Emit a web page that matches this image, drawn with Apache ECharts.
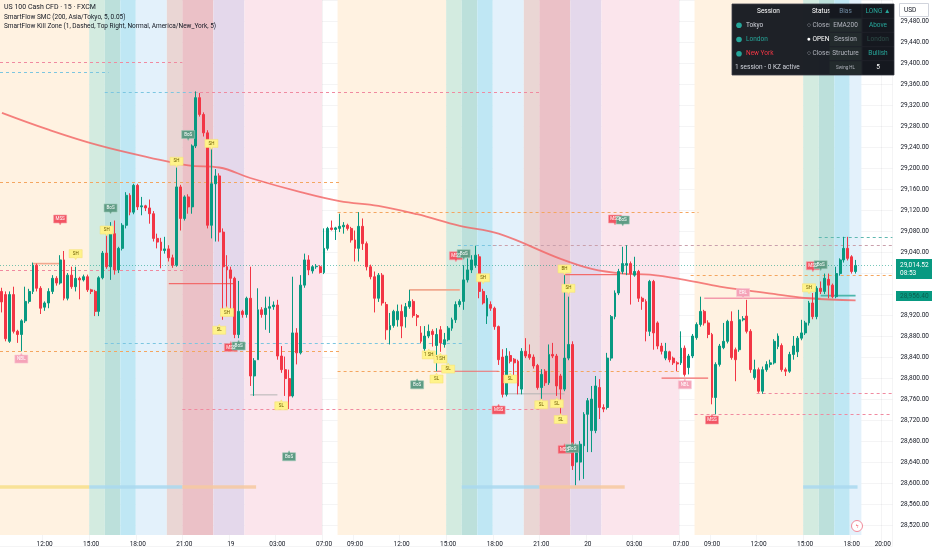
<!DOCTYPE html>
<html><head><meta charset="utf-8">
<script src="https://cdn.jsdelivr.net/npm/echarts@6/dist/echarts.min.js"></script>
<style>html,body{margin:0;padding:0;background:#fff}#c{width:932px;height:550px}</style>
</head><body><div id="c"></div>
<script>
// ---------- DATA ----------
// OHLC per 15-min candle: [open, close, low, high]
const candles = [
[28965,28945,28925,28972],[28959,28875,28870,28965],[28870,28959,28867,28965],[28959,28889,28885,28974],[28889,28883,28867,28892],
[28883,28909,28851,28912],[28909,28946,28905,28974],[28946,28965,28942,28970],[28965,29015,28960,29020],[29015,28971,28965,29018],
[28971,28933,28922,28975],[28935,28943,28928,28946],[28943,28965,28933,28971],[28965,28990,28960,28996],[28990,28981,28976,28994],
[28981,29025,28978,29034],[29025,28952,28948,29042],[28952,28996,28948,29000],[28996,28974,28970,29012],[28974,28990,28965,29012],
[28990,28987,28950,28993],[28987,28993,28984,28997],[28993,28968,28964,28997],[28968,28965,28960,28970],[28965,28927,28918,28968],
[28927,28991,28918,28994],[28991,29038,28988,29042],[29038,29012,29008,29072],[29012,29075,28987,29097],[29075,29006,28997,29100],
[29006,29047,29000,29050],[29047,29091,29043,29095],[29091,29148,29085,29154],[29148,29116,29110,29152],[29116,29167,29112,29170],
[29167,29126,29120,29170],[29126,29128,29110,29145],[29128,29124,29118,29130],[29124,29113,29094,29140],[29113,29066,29060,29118],
[29066,29059,29047,29075],[29059,29043,29009,29067],[29043,29046,29037,29069],[29046,29029,29022,29053],[29029,29015,29010,29035],
[29015,29164,29012,29201],[29164,29104,29081,29168],[29104,29145,29100,29148],[29145,29126,29113,29150],[29126,29242,29113,29245],
[29242,29334,29238,29346],[29334,29302,29298,29343],[29302,29267,29260,29306],[29267,29091,29085,29272],[29091,29170,29066,29239],
[29170,29185,29060,29198],[29185,29078,29060,29190],[29078,29012,28911,29085],[29012,29006,28927,29034],[29006,28990,28920,29012],
[28990,28883,28876,28993],[28883,28927,28876,28985],[28927,28921,28915,28930],[28921,28952,28915,28955],[28952,28804,28785,29012],
[28804,28833,28766,28838],[28835,28930,28835,28971],[28930,28921,28915,28935],[28921,28933,28892,28955],[28933,28936,28886,28955],
[28936,28939,28930,28946],[28939,28842,28835,28949],[28842,28816,28810,28861],[28816,28799,28766,28841],[28799,28766,28741,28816],
[28766,28886,28763,28993],[28886,28848,28826,28895],[28848,28977,28845,28996],[28977,29025,28972,29037],[29025,29006,28996,29034],
[29004,29012,28999,29015],[29012,29013,29008,29017],[29012,29001,28999,29015],[29001,29047,28998,29085],[29047,29085,29043,29088],
[29086,29083,29081,29100],[29083,29086,29063,29088],[29085,29089,29078,29113],[29088,29091,29075,29097],[29091,29085,29081,29094],
[29085,29063,29058,29088],[29063,29047,29022,29081],[29047,29089,29022,29116],[29089,29056,29044,29104],[29056,29012,29005,29060],
[29012,28993,28988,29016],[28993,28952,28925,29003],[28952,28996,28945,29000],[28996,28943,28938,29000],[28940,28892,28873,28945],
[28892,28900,28864,28924],[28900,28927,28896,28930],[28911,28927,28898,28940],[28927,28899,28876,28940],[28917,28936,28896,28943],
[28936,28946,28932,28968],[28946,28919,28915,28950],[28919,28916,28899,28922],[28886,28870,28866,28899],[28856,28880,28848,28899],
[28880,28889,28876,28902],[28889,28883,28860,28893],[28862,28883,28813,28895],[28892,28867,28850,28899],[28864,28873,28858,28886],
[28873,28895,28870,28899],[28895,28911,28890,28915],[28911,28940,28905,28946],[28940,28946,28935,28950],[28946,28987,28930,29015],
[28987,29006,28982,29028],[29006,29025,29000,29034],[29015,29034,29010,29052],[29031,28965,28952,29036],[28965,28943,28940,28970],
[28918,28952,28903,28958],[28940,28933,28928,28946],[28933,28898,28892,28936],[28898,28835,28825,28900],[28840,28769,28763,28855],
[28769,28842,28765,28857],[28843,28832,28828,28851],[28836,28829,28791,28838],[28832,28785,28769,28835],[28779,28851,28769,28857],
[28851,28842,28838,28876],[28845,28839,28835,28864],[28840,28823,28818,28845],[28824,28782,28778,28827],[28782,28807,28760,28817],
[28813,28791,28785,28817],[28791,28845,28787,28864],[28845,28842,28838,28867],[28842,28785,28766,28846],[28804,28779,28722,28808],
[28779,28838,28775,28996],[28838,28864,28834,28955],[28864,28633,28625,28870],[28640,28671,28596,28675],[28640,28674,28605,28680],
[28671,28731,28608,28735],[28731,28757,28659,28762],[28700,28760,28659,28785],[28700,28785,28695,28804],[28782,28744,28722,28798],
[28744,28741,28735,28750],[28744,28838,28740,28848],[28838,28917,28833,28920],[28917,28962,28912,28967],[28962,29003,28958,29008],
[29003,29018,28998,29050],[29015,29018,28996,29053],[29018,28999,28940,29022],[28996,29003,28993,29031],[29003,28952,28945,29006],
[28952,28946,28930,28955],[28946,28889,28870,28950],[28889,28984,28880,28987],[28984,28886,28854,28987],[28905,28861,28855,28908],
[28861,28851,28845,28867],[28838,28851,28834,28867],[28850,28835,28830,28852],[28838,28829,28825,28841],[28829,28827,28813,28832],
[28829,28857,28825,28889],[28857,28807,28803,28862],[28820,28842,28807,28846],[28842,28880,28838,28884],[28877,28902,28873,28906],
[28902,28927,28898,28955],[28927,28905,28900,28930],[28905,28883,28876,28910],[28883,28763,28750,28886],[28763,28826,28731,28830],
[28826,28861,28822,28865],[28858,28870,28855,28905],[28870,28908,28866,28911],[28908,28839,28835,28927],[28854,28835,28794,28858],
[28854,28911,28850,28930],[28911,28913,28908,28918],[28918,28889,28885,28949],[28889,28816,28810,28893],[28801,28816,28797,28835],
[28816,28775,28772,28820],[28775,28816,28770,28822],[28816,28826,28812,28832],[28826,28829,28820,28835],[28829,28870,28826,28874],
[28860,28880,28855,28885],[28862,28816,28812,28866],[28816,28813,28804,28820],[28813,28845,28810,28850],[28845,28861,28835,28880],
[28850,28876,28840,28880],[28876,28886,28872,28911],[28886,28905,28882,28909],[28905,28943,28900,28947],[28943,28917,28912,28962],
[28917,28971,28912,28975],[28971,28965,28960,28984],[28965,28990,28960,28999],[28988,28977,28952,28999],[28977,28955,28952,28980],
[28955,28999,28952,29012],[28999,29025,28995,29028],[29025,29047,29020,29069],[29047,29028,29024,29069],[29031,29003,28999,29034],
[29003,29014.52,28999,29025]
];
// EMA 200 read points: [candle index, price]
const emaPoints = [[0,29305],[12,29273],[25,29243],[38,29220],[48,29205],[56,29201],[64,29181],[77,29154],[87,29137],[97,29128],
[107,29112],[118,29090],[128,29075],[144,29027],[152,29008],[160,28999],[167,28997],[176,28987],[185,28974],[192,28967],[200,28959],[208,28952],[220,28948]];
// time-axis tick labels: [category, label]
const tickLabels = [['18 12:00','12:00'],['18 15:00','15:00'],['18 18:00','18:00'],['18 21:00','21:00'],['19 00:00','19'],['19 03:00','03:00'],
['19 07:00','07:00'],['19 09:00','09:00'],['19 12:00','12:00'],['19 15:00','15:00'],['19 18:00','18:00'],['19 21:00','21:00'],['20 00:00','20'],
['20 03:00','03:00'],['20 07:00','07:00'],['20 09:00','09:00'],['20 12:00','12:00'],['20 15:00','15:00'],['20 18:00','18:00'],['20 20:00','20:00']];
// session background windows: [start, end(exclusive), kind]
const sessionBands = [
['18 09:15','18 15:00','asia'],['18 15:00','18 16:00','lonA'],['18 16:00','18 17:00','lonB'],['18 17:00','18 18:00','nyOpen'],['18 18:00','18 20:00','ny'],
['18 20:00','18 21:00','nyLate'],['18 21:00','18 23:00','kz'],['18 23:00','19 01:00','late'],['19 01:00','19 07:00','night'],
['19 08:00','19 15:00','asia'],['19 15:00','19 16:00','lonA'],['19 16:00','19 17:00','lonB'],['19 17:00','19 18:00','nyOpen'],['19 18:00','19 20:00','ny'],
['19 20:00','19 21:00','nyLate'],['19 21:00','19 23:00','kz'],['19 23:00','20 01:00','late'],['20 01:00','20 07:00','night'],
['20 08:00','20 15:00','asia'],['20 15:00','20 16:00','lonA'],['20 16:00','20 17:00','lonB'],['20 17:00','20 18:00','nyOpen'],['20 18:00','20 18:45','ny']
];
// session range strips near the bottom: [start, end(exclusive), kind]
const rangeStrips = [['18 09:15','18 15:00','asia'],['18 15:00','18 21:00','london'],['18 21:00','19 01:45','ny'],
['19 16:00','19 21:00','london'],['19 21:00','20 02:30','ny'],['20 15:00','20 18:30','london']];
const stripPrices = [28589, 28596];
// dashed liquidity levels: [price, start index, end index, kind]
const levels = [
[29402,0,46,'pink'],[29383,0,27,'blue'],[29345,27,50,'blue'],[29345,50,138,'pink'],[29174,0,87,'orange'],[29116,87,179,'orange'],
[29069,211,229,'teal'],[29054,118,127,'blue'],[29054,127,229,'rose'],[29014.52,0,229,'current'],[29006,0,47,'pink'],[28997,178,229,'orange'],
[28866,27,118,'blue'],[28851,0,87,'orange'],[28813,87,112,'orange'],[28813,128,174,'orange'],[28772,195,229,'pink'],[28741,47,138,'pink'],[28732,179,229,'pink']
];
// structure lines: [price, start index, end index, kind]
const structure = [[29018,8,15,'salmon'],[28980,43,60,'red'],[28768,64,71,'grey'],[28968,105,118,'salmon'],[28813,112,128,'red'],[28770,129,145,'grey'],
[28997,145,159,'red'],[28800,170,182,'red'],[28952,181,211,'pink'],[28957,211,220,'teal']];
// markers: [candle index, price, text]
const markSH = [[19,29035,'SH'],[27,29080,'SH'],[45,29211,'SH'],[54,29245,'SH'],[56,28893,'SL'],[58,28927,'SH'],[72,28749,'SL'],
[110,28846,'1 SH'],[113,28838,'1 SH'],[115,28819,'SL'],[112,28800,'SL'],[124,28989,'SH'],[131,28800,'SL'],[139,28751,'SL'],[143,28753,'SL'],
[144,28723,'SL'],[145,29006,'BH'],[146,28969,'SH'],[208,28970,'SH']];
const markBoS = [[28,29122,'BoS'],[48,29262,'BoS'],[61,28863,'BoS'],[74,28652,'BoS'],[107,28789,'BoS'],[119,29035,'BoS'],[147,28668,'BoS'],[160,29099,'BoS'],[211,29014,'BoS']];
const markMSS = [[15,29101,'MSS'],[59,28860,'MSS'],[117,29031,'MSS'],[128,28741,'MSS'],[145,28666,'MSS'],[158,29101,'MSS'],[183,28722,'MSS'],[209,29012,'MSS']];
const markLiq = [[5,28838,'NBL'],[176,28789,'NBL'],[191,28961,'ERL']];
const lastPrice = 29014.52, lastCountdown = '08:53', secondTag = 28956.40;

// ---------- STYLE ----------
const bandColors = {asia:'#fff2e1',lonA:'#d3ebe0',lonB:'#bce0db',nyOpen:'#bfe7f4',ny:'#e3f1fb',nyLate:'#ead6d4',kz:'#ebc1c7',late:'#e4d8eb',night:'#fbe5ec'};
const stripColors = {asia:'#f7df8a',london:'#a9d8ee',ny:'#f6c9a0'};
const levelStyles = {
  pink:{c:'#f08aa0',d:[3,3]}, blue:{c:'#7cc6e0',d:[3,3]}, orange:{c:'#f4a660',d:[3,3]}, teal:{c:'#5fb8b0',d:[3,3]},
  rose:{c:'#c9a0ac',d:[3,3]}, current:{c:'rgba(8,153,129,0.55)',d:[1,2]}
};
const structStyles = {salmon:{c:'#f1a88e',w:1.6},red:{c:'#f26b6b',w:1.2},grey:{c:'#b4b4b4',w:1},pink:{c:'#f39aac',w:1.6},teal:{c:'#4db6ac',w:1.6}};
const FONT = 'Roboto';
const PIN_DOWN = 'path://M0,0 L12,0 L12,8 L7,8 L6,10 L5,8 L0,8 Z';
const PIN_UP = 'path://M0,2 L5,2 L6,0 L7,2 L12,2 L12,10 L0,10 Z';

// ---------- BUILD ----------
function pad(n){return (n<10?'0':'')+n;}
const categories = [];
(function(){ let d=18, m=9*60+15;
  while(categories.length<230){ const h=Math.floor(m/60), mi=m%60;
    if(h!==4) categories.push(d+' '+pad(h)+':'+pad(mi));
    m+=15; if(m>=1440){m=0; d++;} } })();
const ci = k => categories.indexOf(k);
const tickMap = new Map(tickLabels);
const Y_MIN=28480, Y_MAX=29520, BAND_BOTTOM=28501;

const bandKeys = Object.keys(bandColors);
const bandData = sessionBands.map(b=>[ci(b[0]), ci(b[1]), bandKeys.indexOf(b[2])]);
const stripKeys = Object.keys(stripColors);
const stripData = rangeStrips.map(b=>[ci(b[0]), ci(b[1]), stripKeys.indexOf(b[2])]);
const levelKeys = Object.keys(levelStyles);
const levelData = levels.map(l=>[l[1], l[2], l[0], levelKeys.indexOf(l[3])]);
const structKeys = Object.keys(structStyles);
const structData = structure.map(l=>[l[1], l[2], l[0], structKeys.indexOf(l[3])]);

function isAbove(m){ const c=candles[m[0]]; if(!c) return true; return m[1] > (c[0]+c[1])/2; }
function markerSeries(data, bg, fg, border){
  return {type:'scatter', data:data.map(m=>({value:m, symbol:isAbove(m)?PIN_DOWN:PIN_UP,
      label:{offset:[0, isAbove(m)?-1:1]}})),
    symbolSize:[13,10], z:6, silent:true,
    itemStyle:{color:bg, borderColor:border||bg, borderWidth:0.6, opacity:1},
    label:{show:true, position:'inside', formatter:p=>p.value[2], fontSize:4.5, color:fg, fontFamily:FONT}};
}

const chart = echarts.init(document.getElementById('c'), null, {renderer:'canvas'});
const option = {
  animation:false,
  backgroundColor:'#ffffff',
  grid:{left:0, right:37, top:-3.3, bottom:3.9},
  xAxis:{type:'category', data:categories, boundaryGap:true,
    axisLine:{show:false}, axisTick:{show:false},
    axisLabel:{inside:true, margin:-1.5, interval:(i,v)=>tickMap.has(v), formatter:v=>tickMap.get(v)||'', fontSize:6.5, color:'#131722', fontFamily:FONT},
    splitLine:{show:true, interval:(i,v)=>tickMap.has(v), lineStyle:{color:'rgba(42,46,57,0.05)'}}},
  yAxis:{type:'value', position:'right', min:Y_MIN, max:Y_MAX, interval:40, scale:true,
    axisLine:{show:false}, axisTick:{show:false},
    axisLabel:{showMinLabel:false, showMaxLabel:false, margin:8, fontSize:6.5, color:'#131722', fontFamily:FONT,
      formatter:v=>v.toLocaleString('en-US',{minimumFractionDigits:2, maximumFractionDigits:2})},
    splitLine:{lineStyle:{color:'rgba(42,46,57,0.05)'}}},
  series:[
    {type:'custom', silent:true, z:0, data:bandData, encode:{x:[0,1]},
      renderItem:(params, api)=>{
        const s=api.value(0), e=api.value(1), k=api.value(2);
        const w=api.size([1,0])[0];
        const p0=api.coord([s, Y_MAX]), p1=api.coord([e, BAND_BOTTOM]);
        return {type:'rect', shape:{x:p0[0]-w/2, y:params.coordSys.y, width:(p1[0]-p0[0]), height:p1[1]-params.coordSys.y},
          style:{fill:bandColors[bandKeys[k]]}};
      }},
    {type:'custom', silent:true, z:1, data:stripData, encode:{x:[0,1]},
      renderItem:(params, api)=>{
        const s=api.value(0), e=api.value(1), k=api.value(2);
        const w=api.size([1,0])[0];
        const p0=api.coord([s, stripPrices[1]]), p1=api.coord([e, stripPrices[0]]);
        return {type:'rect', shape:{x:p0[0]-w/2, y:p0[1], width:p1[0]-p0[0], height:p1[1]-p0[1]},
          style:{fill:stripColors[stripKeys[k]], opacity:0.85}};
      }},
    {type:'custom', silent:true, z:2, data:levelData, encode:{x:[0,1], y:2},
      renderItem:(params, api)=>{
        const s=api.value(0), e=api.value(1), p=api.value(2), k=api.value(3);
        const w=api.size([1,0])[0];
        const a=api.coord([s,p]), b=api.coord([e,p]);
        const st=levelStyles[levelKeys[k]];
        return {type:'line', shape:{x1:a[0]-w/2, y1:Math.round(a[1])+0.5, x2:b[0]+w/2, y2:Math.round(a[1])+0.5},
          style:{stroke:st.c, lineWidth:1, lineDash:st.d}};
      }},
    {type:'custom', silent:true, z:3, data:structData, encode:{x:[0,1], y:2},
      renderItem:(params, api)=>{
        const s=api.value(0), e=api.value(1), p=api.value(2), k=api.value(3);
        const a=api.coord([s,p]), b=api.coord([e,p]);
        const st=structStyles[structKeys[k]];
        return {type:'line', shape:{x1:a[0], y1:a[1], x2:b[0], y2:b[1]}, style:{stroke:st.c, lineWidth:st.w}};
      }},
    {type:'line', data:emaPoints, smooth:0.4, symbol:'none', connectNulls:true, z:3, silent:true,
      lineStyle:{color:'rgba(242,98,98,0.8)', width:1.8}},
    {type:'candlestick', data:candles, barWidth:'62%', z:5, silent:true,
      itemStyle:{color:'#089981', color0:'#f23645', borderColor:'#089981', borderColor0:'#f23645', borderWidth:1}},
    markerSeries(markSH, '#fff38a', '#6d5d00', '#f5e37a'),
    markerSeries(markMSS, '#f25563', '#ffffff', '#f7a0a8'),
    markerSeries(markBoS, '#5e9b84', '#ffffff', '#9fc9b8'),
    markerSeries(markLiq, '#f5a3b8', '#ffffff', '#f8c7d3')
  ]
};
chart.setOption(option);

// ---------- OVERLAYS ----------
const yLast = chart.convertToPixel({yAxisIndex:0}, lastPrice);
const y2 = chart.convertToPixel({yAxisIndex:0}, secondTag);
const fmt = v=>v.toLocaleString('en-US',{minimumFractionDigits:2, maximumFractionDigits:2});
const T = (x,y,text,fill,opt)=>Object.assign({type:'text', z:100, style:Object.assign({x:x, y:y, text:text, fill:fill, fontSize:6.5, fontFamily:FONT, verticalAlign:'middle', align:'left'}, opt||{})});
const R = (x,y,w,h,fill,opt)=>Object.assign({type:'rect', z:99, shape:{x:x,y:y,width:w,height:h}, style:Object.assign({fill:fill}, opt||{})});

const TX=732, TY=4, TW=162, TH=71, C1=805, C2=829, C3=862, RH=[4,18.3,32.3,46.7,60.7,75];
const g = [];
// title lines
g.push(T(4,7.5,'US 100 Cash CFD · 15 · FXCM','#131722',{fontSize:7}));
g.push(T(4,17,'SmartFlow SMC (200, Asia/Tokyo, 5, 0.05)','#131722'));
g.push(T(4,26.5,'SmartFlow Kill Zone (1, Dashed, Top Right, Normal, America/New_York, 5)','#131722'));
// table
g.push(R(TX,TY,TW,TH,'rgba(21,24,31,0.96)',{stroke:'#3a3e48', lineWidth:0.8}));
const rowC = i=>(RH[i]+RH[i+1])/2;
g.push(T((TX+C1)/2,rowC(0),'Session','#ffffff',{align:'center'}));
g.push(T(812,rowC(0),'Status','#ffffff'));
const dotColor='#26a69a';
[['Tokyo','#d1d4dc'],['London','#26a69a'],['New York','#f23645']].forEach((r,i)=>{
  g.push({type:'circle', z:100, shape:{cx:739, cy:rowC(i+1), r:2.8}, style:{fill:dotColor}});
  g.push(T(746,rowC(i+1),r[0],r[1]));
});
g.push(T(807,rowC(1),'○ Closed','#b2b5be'));
g.push(T(807,rowC(2),'● OPEN','#ffffff'));
g.push(T(807,rowC(3),'○ Closed','#b2b5be'));
g.push(T(735,rowC(4),'1 session - 0 KZ active','#d1d4dc'));
// col3/col4 cells (cover overflow)
for(let i=0;i<5;i++){
  g.push(Object.assign(R(C2+0.5,RH[i]+0.5,C3-C2-1,RH[i+1]-RH[i]-1, i===0?'rgba(21,24,31,1)':'#232b2d'),{z:101}));
  g.push(Object.assign(R(C3+0.5,RH[i]+0.5,TX+TW-C3-1,RH[i+1]-RH[i]-1,'rgba(21,24,31,1)'),{z:101}));
}
const T2=(x,y,t,f,o)=>Object.assign(T(x,y,t,f,Object.assign({align:'center'},o||{})),{z:102});
g.push(T2((C2+C3)/2,rowC(0),'Bias','#6f8ba3'));
g.push(T2((C2+C3)/2,rowC(1),'EMA200','#b2b5be'));
g.push(T2((C2+C3)/2,rowC(2),'Session','#b2b5be'));
g.push(T2((C2+C3)/2,rowC(3),'Structure','#b2b5be'));
g.push(T2((C2+C3)/2,rowC(4),'Swing HL','#b2b5be',{fontSize:4.5}));
g.push(T2((C3+TX+TW)/2,rowC(0),'LONG ▲','#26a69a'));
g.push(T2((C3+TX+TW)/2,rowC(1),'Above','#26a69a'));
g.push(T2((C3+TX+TW)/2,rowC(2),'London','#2f4f4a'));
g.push(T2((C3+TX+TW)/2,rowC(3),'Bullish','#26a69a'));
g.push(T2((C3+TX+TW)/2,rowC(4),'5','#ffffff'));
// USD box
g.push(Object.assign(R(899.5,3.5,29,13,'#ffffff',{stroke:'#d1d4dc', lineWidth:1}),{z:110}));
g.push(Object.assign(T(904,10,'USD','#131722'),{z:111}));
// price tags
g.push(Object.assign(R(896,yLast-6.5,36,20,'#089981',{}),{z:110}));
g.push(Object.assign(T(900,yLast-0.5,fmt(lastPrice),'#ffffff'),{z:111}));
g.push(Object.assign(T(900,yLast+8,lastCountdown,'#ffffff'),{z:111}));
g.push(Object.assign(R(896,y2-5,36,10,'#089981',{}),{z:110}));
g.push(Object.assign(T(900,y2,fmt(secondTag),'#0b5e50'),{z:111}));
// replay icon
g.push({type:'circle', z:110, shape:{cx:857, cy:526, r:5.5}, style:{fill:'#ffffff', stroke:'#f28a9a', lineWidth:1}});
g.push(Object.assign(T(857,526.5,'ϟ','#f23645',{align:'center', fontSize:7}),{z:111}));
chart.setOption({graphic:{elements:g}});
</script>
</body></html>
